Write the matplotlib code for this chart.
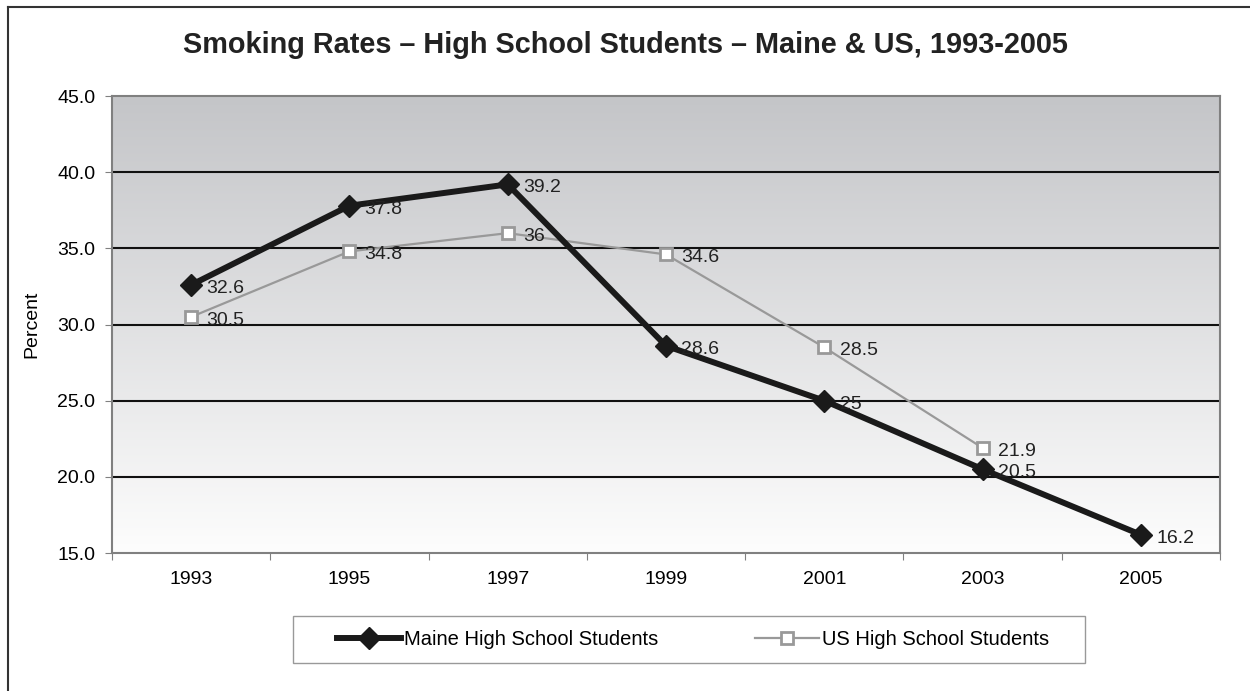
import matplotlib
matplotlib.use("Agg")
import matplotlib.pyplot as plt
import numpy as np
from matplotlib.patches import Rectangle
from matplotlib.lines import Line2D

plt.rcParams['font.family'] = ['Liberation Sans', 'DejaVu Sans']

years = ['1993', '1995', '1997', '1999', '2001', '2003', '2005']
maine = [32.6, 37.8, 39.2, 28.6, 25, 20.5, 16.2]
us = [30.5, 34.8, 36, 34.6, 28.5, 21.9]
maine_labels = ['32.6', '37.8', '39.2', '28.6', '25', '20.5', '16.2']
us_labels = ['30.5', '34.8', '36', '34.6', '28.5', '21.9']

W, H = 1250, 691
fig = plt.figure(figsize=(12.5, 6.91), dpi=100)
ax = fig.add_axes([0.0896, 0.1997, 0.8864, 0.6613])

# grey gradient behind the plot
grad = np.linspace(0, 1, 256).reshape(-1, 1)
top = np.array([196, 197, 200]) / 255
bot = np.array([253, 253, 253]) / 255
img = top + (bot - top) * grad[..., None]
ax.imshow(img, extent=[0, 7, 15, 45], aspect='auto', origin='upper', zorder=0)

x = np.arange(len(years)) + 0.5
ax.plot(x[:len(us)], us, color='#999999', lw=1.6, marker='s', ms=9,
        mfc='white', mec='#999999', mew=2, zorder=3, label='US High School Students')
ax.plot(x, maine, color='#1a1a1a', lw=4.3, marker='D', ms=11,
        mfc='#1a1a1a', mec='#1a1a1a', zorder=4, label='Maine High School Students')

for xi, v, t in zip(x, maine, maine_labels):
    ax.annotate(t, (xi, v), xytext=(11, -2.5), textcoords='offset points',
                fontsize=14, va='center', ha='left', color='#222222', zorder=5)
for xi, v, t in zip(x, us, us_labels):
    ax.annotate(t, (xi, v), xytext=(11, -2.5), textcoords='offset points',
                fontsize=14, va='center', ha='left', color='#222222', zorder=5)

ax.set_xlim(0, 7)
ax.set_ylim(15, 45)
ax.set_yticks(np.arange(15, 46, 5))
ax.set_yticklabels(['%.1f' % v for v in np.arange(15, 46, 5)], fontsize=14)
ax.set_xticks(np.arange(0, 8))
ax.set_xticklabels([])
ax.set_xticks(x, minor=True)
ax.set_xticklabels(years, minor=True, fontsize=14)
ax.tick_params(axis='x', which='minor', length=0, pad=13)
ax.tick_params(axis='x', which='major', length=5, color='#808080', direction='out')
ax.tick_params(axis='y', length=5, color='#808080', direction='out', pad=7)
for yv in range(20, 45, 5):
    ax.axhline(yv, color='#111111', lw=1.5, zorder=1)
for s in ax.spines.values():
    s.set_color('#808080')
    s.set_linewidth(1.5)
ax.set_ylabel('Percent', fontsize=14, labelpad=12)

fig.text(0.5, 1 - 45 / H,
         'Smoking Rates \u2013 High School Students \u2013 Maine & US, 1993-2005',
         fontsize=20.8, fontweight='bold', ha='center', va='center', color='#222222')

# legend box drawn separately so it can be wider than its contents
fig.patches.append(Rectangle((293 / W, 1 - 663 / H), (1085 - 293) / W, 47 / H,
                             transform=fig.transFigure, fill=False,
                             edgecolor='#999999', lw=1))
h, l = ax.get_legend_handles_labels()
leg = fig.legend(h[::-1], l[::-1], loc='center', bbox_to_anchor=(0.5545, 1 - 639.5 / H),
                 ncol=2, fontsize=14.5, frameon=False,
                 handlelength=3.2, handletextpad=0.15, columnspacing=4.8)

# outer border: only top and left edges show in the reference
fig.add_artist(Line2D([8 / W, 8 / W], [0, 1 - 7 / H], transform=fig.transFigure,
                      color='#333333', lw=1.5))
fig.add_artist(Line2D([8 / W, 1], [1 - 7 / H, 1 - 7 / H], transform=fig.transFigure,
                      color='#333333', lw=1.5))

fig.savefig('out.png', dpi=100)
